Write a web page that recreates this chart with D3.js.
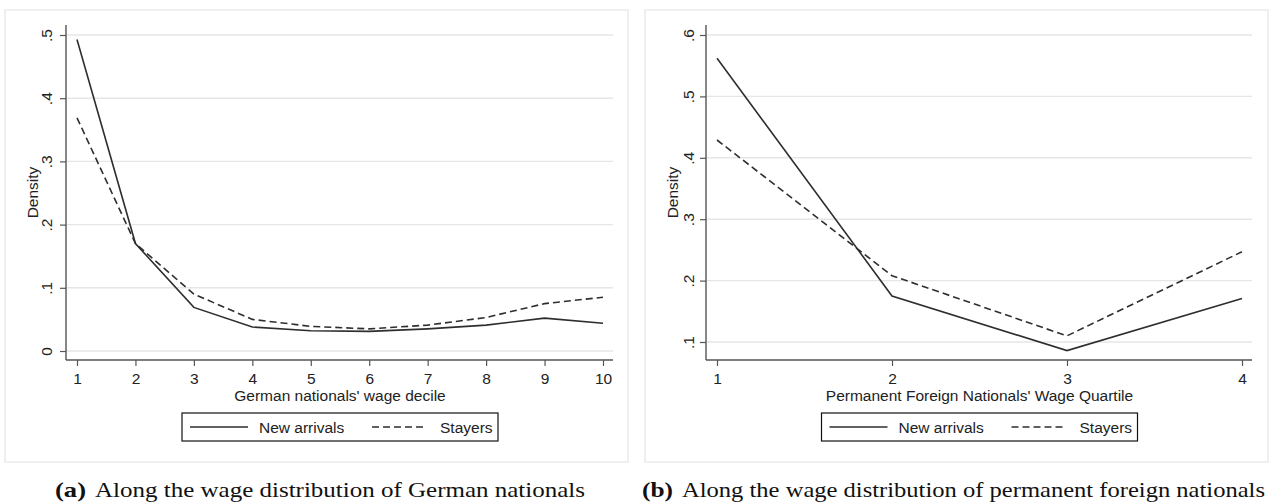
<!DOCTYPE html>
<html>
<head>
<meta charset="utf-8">
<script src="https://cdn.jsdelivr.net/npm/d3@7"></script>
<style>
  body { margin: 0; background: #fff; }
  svg text { font-family: "Liberation Sans", Arial, sans-serif; fill: #222; }
  svg text.cap { font-family: "Liberation Serif", "DejaVu Serif", serif; fill: #111; }
</style>
</head>
<body>
<svg id="chart" width="1269" height="502"></svg>
<script>
// panel (a): German nationals, deciles
var deciles = [1, 2, 3, 4, 5, 6, 7, 8, 9, 10];
var germanNew = [0.493, 0.170, 0.069, 0.038, 0.032, 0.031, 0.035, 0.041, 0.052, 0.044];
var germanStay = [0.369, 0.170, 0.090, 0.050, 0.039, 0.035, 0.041, 0.053, 0.075, 0.085];
var germanYTicks = [0, 0.1, 0.2, 0.3, 0.4, 0.5];

// panel (b): permanent foreign nationals, quartiles
var quartiles = [1, 2, 3, 4];
var foreignNew = [0.562, 0.175, 0.086, 0.171];
var foreignStay = [0.429, 0.208, 0.110, 0.247];
var foreignYTicks = [0.1, 0.2, 0.3, 0.4, 0.5, 0.6];

var seriesNames = ["New arrivals", "Stayers"];

var svg = d3.select("#chart");

function tickFmt(d) {
	if (d === 0) return "0";
	return d3.format(".1f")(d).replace(/^0/, "");
}

function drawPanel(p) {
	var g = svg.append("g");

	g.append("rect")
		.attr("x", p.box[0]).attr("y", p.box[1])
		.attr("width", p.box[2] - p.box[0]).attr("height", p.box[3] - p.box[1])
		.attr("fill", "#fff").attr("stroke", "#ececec").attr("stroke-width", 1.6);

	var x = d3.scaleLinear().domain(d3.extent(p.xs)).range(p.xRange);
	var y = d3.scaleLinear().domain(d3.extent(p.yTicks)).range(p.yRange);

	// grid
	g.selectAll(".grid").data(p.yTicks).enter().append("line")
		.attr("x1", p.axisX).attr("x2", p.gridRight)
		.attr("y1", function(d) { return y(d); }).attr("y2", function(d) { return y(d); })
		.attr("stroke", "#e6e6e6").attr("stroke-width", 1.4);

	// axes
	var xAxis = g.append("g")
		.attr("transform", "translate(0," + p.axisY + ")")
		.call(d3.axisBottom(x).tickValues(p.xs).tickSize(6).tickFormat(d3.format("d")));
	xAxis.select(".domain").remove();
	xAxis.selectAll("line").attr("stroke", "#555").attr("stroke-width", 1.2);
	xAxis.selectAll("text").attr("font-size", 15.5).attr("fill", "#222").attr("y", 13);

	var yAxis = g.append("g")
		.attr("transform", "translate(" + p.axisX + ",0)")
		.call(d3.axisLeft(y).tickValues(p.yTicks).tickSize(6).tickFormat(tickFmt));
	yAxis.select(".domain").remove();
	yAxis.selectAll("line").attr("stroke", "#555").attr("stroke-width", 1.2);
	yAxis.selectAll("text")
		.attr("font-size", 15.5).attr("fill", "#222")
		.attr("text-anchor", "middle")
		.attr("transform", "rotate(-90)")
		.attr("x", 0).attr("y", p.yLabelOff).attr("dy", 0);

	g.append("line")
		.attr("x1", p.axisX).attr("x2", p.axisX)
		.attr("y1", p.axisTop).attr("y2", p.axisY)
		.attr("stroke", "#555").attr("stroke-width", 1.4);
	g.append("line")
		.attr("x1", p.axisX).attr("x2", p.gridRight)
		.attr("y1", p.axisY).attr("y2", p.axisY)
		.attr("stroke", "#555").attr("stroke-width", 1.4);

	// titles
	var cx = (p.xRange[0] + p.xRange[1]) / 2;
	g.append("text").attr("x", cx).attr("y", 401)
		.attr("text-anchor", "middle").attr("font-size", 15.5)
		.text(p.xTitle);
	var cy = (p.axisTop + p.axisY) / 2;
	g.append("text")
		.attr("transform", "translate(" + (p.axisX - 28) + "," + cy + ") rotate(-90)")
		.attr("text-anchor", "middle").attr("font-size", 15.5)
		.text("Density");

	// lines
	var line = d3.line()
		.x(function(d) { return x(d[0]); })
		.y(function(d) { return y(d[1]); });
	g.append("path")
		.datum(d3.zip(p.xs, p.newVals))
		.attr("d", line).attr("fill", "none")
		.attr("stroke", "#2e2e2e").attr("stroke-width", 1.6);
	g.append("path")
		.datum(d3.zip(p.xs, p.stayVals))
		.attr("d", line).attr("fill", "none")
		.attr("stroke", "#2e2e2e").attr("stroke-width", 1.6)
		.attr("stroke-dasharray", "7,4");

	// legend
	var lw = 316, lx = cx - lw / 2, ly = 413;
	var lg = g.append("g").attr("transform", "translate(" + lx + "," + ly + ")");
	lg.append("rect").attr("width", lw).attr("height", 28)
		.attr("fill", "#fff").attr("stroke", "#111").attr("stroke-width", 1.2);
	lg.append("line").attr("x1", 8).attr("x2", 66).attr("y1", 14).attr("y2", 14)
		.attr("stroke", "#2e2e2e").attr("stroke-width", 1.6);
	lg.append("text").attr("x", 77).attr("y", 20).attr("font-size", 15.5).text(seriesNames[0]);
	lg.append("line").attr("x1", 190).attr("x2", 243).attr("y1", 14).attr("y2", 14)
		.attr("stroke", "#2e2e2e").attr("stroke-width", 1.6).attr("stroke-dasharray", "7,4");
	lg.append("text").attr("x", 258).attr("y", 20).attr("font-size", 15.5).text(seriesNames[1]);

	// caption
	var cap = svg.append("g");
	cap.append("text").attr("class", "cap").attr("x", p.capX).attr("y", 497)
		.attr("font-size", 21).attr("font-weight", "bold")
		.attr("textLength", p.capTagW).attr("lengthAdjust", "spacingAndGlyphs")
		.text(p.capTag);
	cap.append("text").attr("class", "cap").attr("x", p.capX + p.capGap).attr("y", 497)
		.attr("font-size", 21)
		.attr("textLength", p.capTextW).attr("lengthAdjust", "spacingAndGlyphs")
		.text(p.capText);
}

drawPanel({
	box: [5, 10, 628, 462],
	xs: deciles, newVals: germanNew, stayVals: germanStay, yTicks: germanYTicks,
	xRange: [77, 603], yRange: [351, 35],
	axisX: 66, axisY: 360, axisTop: 25, gridRight: 613, yLabelOff: -14,
	xTitle: "German nationals' wage decile",
	capX: 55, capGap: 40, capTag: "(a)", capTagW: 31,
	capText: "Along the wage distribution of German nationals", capTextW: 490
});

drawPanel({
	box: [645, 10, 1268, 462],
	xs: quartiles, newVals: foreignNew, stayVals: foreignStay, yTicks: foreignYTicks,
	xRange: [717, 1242], yRange: [342, 35],
	axisX: 706, axisY: 360, axisTop: 25, gridRight: 1252, yLabelOff: -12,
	xTitle: "Permanent Foreign Nationals' Wage Quartile",
	capX: 642, capGap: 40, capTag: "(b)", capTagW: 31,
	capText: "Along the wage distribution of permanent foreign nationals", capTextW: 583
});
</script>
</body>
</html>
